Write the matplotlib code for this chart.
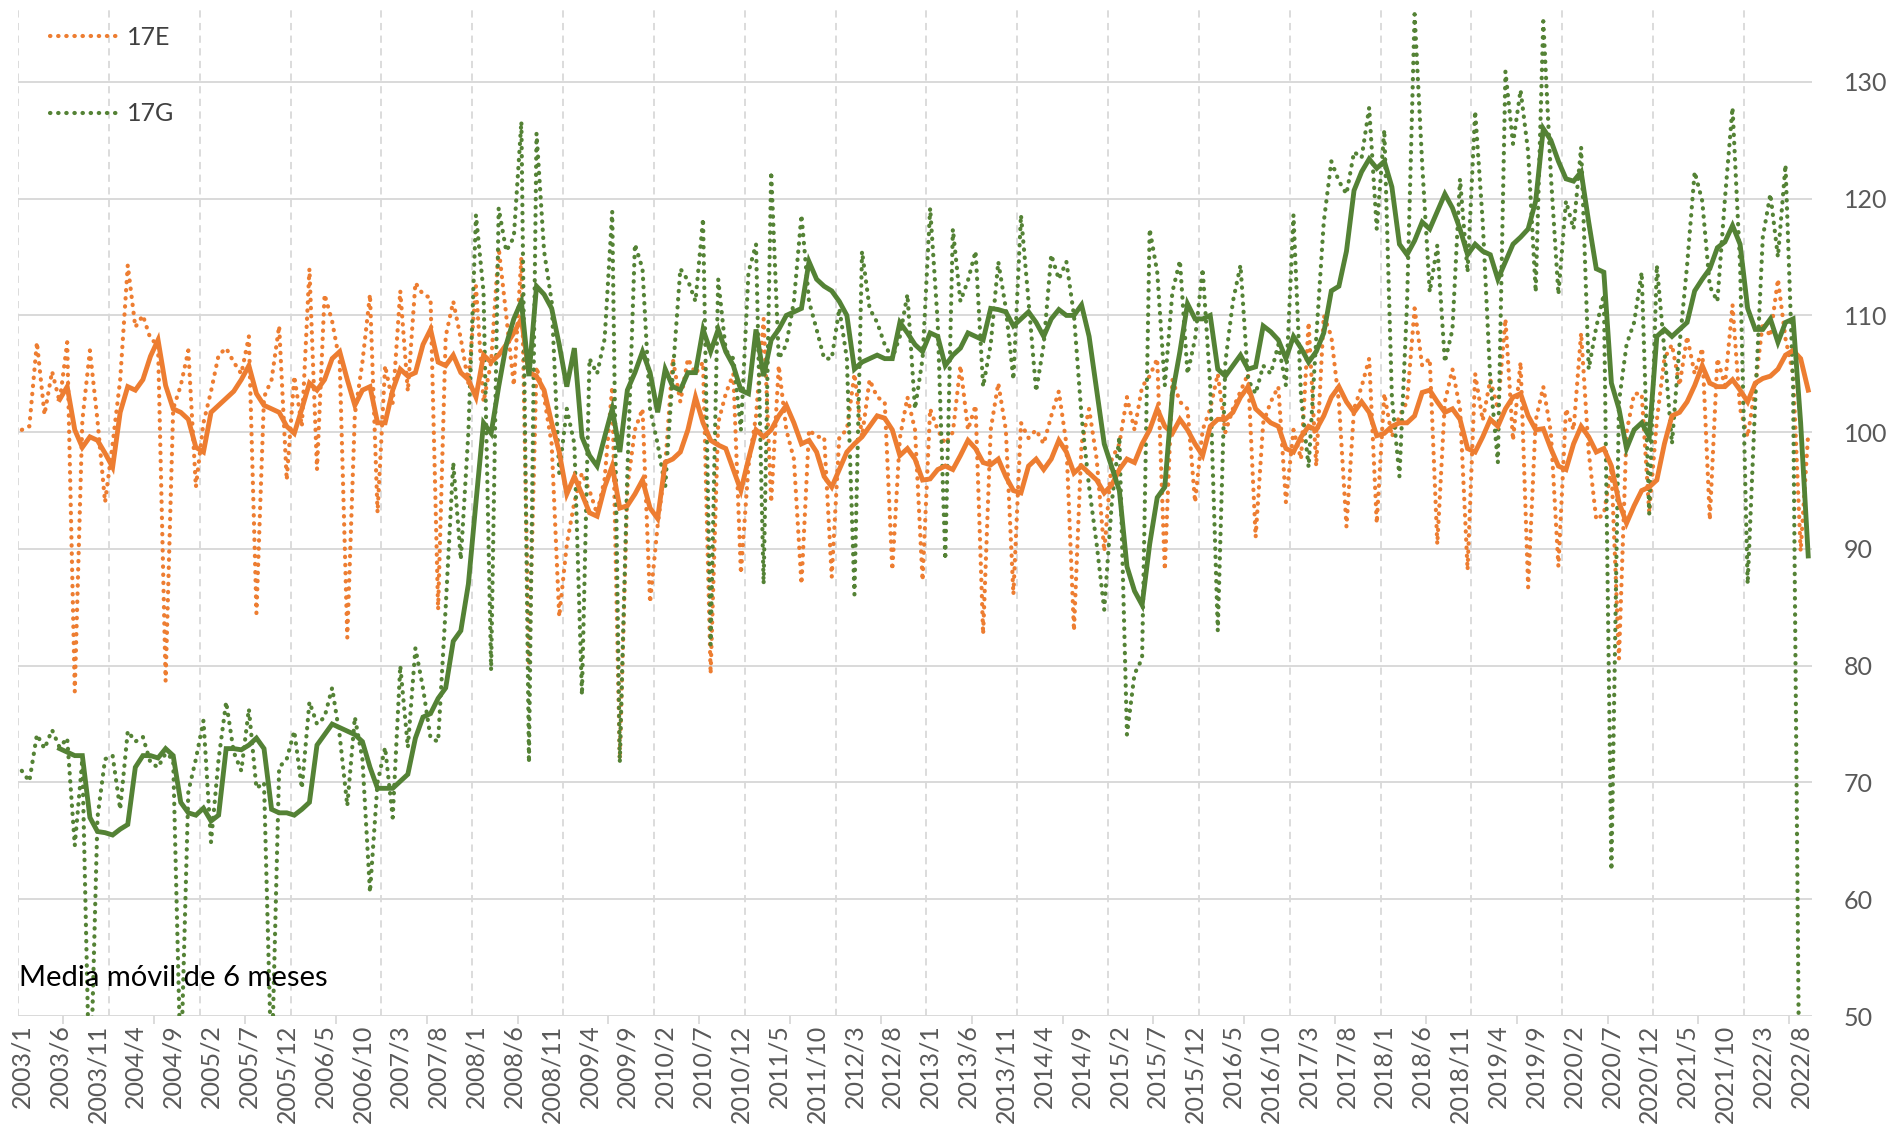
import matplotlib
matplotlib.use("Agg")
import matplotlib.pyplot as plt
from matplotlib.lines import Line2D
from matplotlib import font_manager
import numpy as np

# ---------------- data (monthly, 2003/1 .. 2022/9) ----------------
start_year, start_month = 2003, 1

e17 = [
    100.2, 100.5, 107.7, 101.5, 105.2, 102.6, 107.7, 77.8, 101, 107, 101, 94,          # 2003
    99, 104.5, 114.3, 109, 110, 108, 107.5, 78.7, 102, 104, 107, 95.3,                 # 2004
    100.8, 103.5, 106.6, 107.2, 106, 105, 108.2, 84.5, 103, 104.5, 109.1, 95.9,        # 2005
    104.8, 100.5, 114, 96.8, 111.8, 109.5, 106, 82.4, 101.5, 106, 111.8, 93.1,         # 2006
    105.7, 102.5, 112.1, 103.5, 112.8, 111.8, 111.5, 84.8, 108.2, 111.2, 108, 104.2,   # 2007
    112.5, 102.6, 106, 115.8, 110, 104, 115, 80, 105.6, 103, 99, 84.2,                 # 2008
    90.4, 94, 96.5, 95, 93, 96, 103.9, 72, 95.3, 100.2, 102, 85.4,                     # 2009
    92, 97.1, 106.3, 102.6, 106.3, 105, 106, 79.3, 100.8, 103.3, 105, 87.9,            # 2010
    97.1, 101.4, 109.7, 94, 105.7, 100.2, 97.7, 87, 100.2, 99.6, 99.6, 87.6,           # 2011
    99.6, 100.2, 105, 99.6, 104.5, 103, 102.6, 88.2, 99.5, 103, 100.2, 87.3,           # 2012
    102, 100.2, 99, 100, 105.7, 100.2, 102.3, 82.7, 100.2, 104.2, 100.2, 86.1,         # 2013
    100.8, 99.5, 100.2, 99, 101.4, 103.5, 99, 83, 99, 102, 97.7, 89.8,                 # 2014
    97.7, 99, 103, 100.2, 103.9, 104.8, 106.3, 88.2, 104.5, 102.6, 102, 94,            # 2015
    100.2, 102, 105, 100, 102, 103.5, 105, 91, 100.8, 102.6, 103.9, 94,                # 2016
    100.2, 97.7, 109.4, 97.1, 110, 108.2, 102.6, 91.9, 102, 103.9, 106.3, 92.2,        # 2017
    103.3, 99.6, 101.4, 102.6, 110.6, 105.7, 106.3, 90.4, 102.6, 105.4, 102, 88.2,     # 2018
    105, 101, 104.5, 102, 109.7, 99.3, 106, 86.7, 101, 103.9, 100, 88.5,               # 2019
    102, 100.2, 108.5, 98.3, 92.5, 93, 97, 80.6, 100, 103.3, 103.3, 93.1,              # 2020
    101, 106.3, 107.5, 104, 108.2, 105, 107.2, 92.5, 106.3, 104, 110.9, 102,           # 2021
    99.6, 103.9, 109.4, 108.2, 113.1, 108, 105, 89.8, 99.9,                            # 2022
]

g17 = [
    71.0, 70.1, 74.1, 72.9, 74.5, 73, 73.8, 64.6, 72, 42, 67, 72,                      # 2003
    72.3, 67.7, 74.4, 73.5, 73.9, 71.7, 71.3, 72.5, 72, 45, 69.2, 72,                  # 2004
    75.3, 64.9, 72, 76.9, 72.6, 71, 76.3, 69.5, 70, 45, 71.3, 72,                      # 2005
    74.4, 69.5, 76.9, 75, 75.6, 78.1, 74, 68, 75.6, 72, 60.6, 70,                      # 2006
    73, 67, 80, 73, 81.5, 78.1, 73.8, 73.5, 85, 97.4, 89.1, 100,                       # 2007
    118.6, 112, 79.6, 119.2, 115.5, 116.7, 126.6, 71.7, 125.6, 115.5, 111.2, 96.5,     # 2008
    102, 99, 77.5, 106.3, 105, 108, 118.9, 71.7, 96.5, 116.1, 114, 102,                # 2009
    99, 95.3, 105, 114, 113, 111.2, 118.3, 81.8, 113.1, 107, 106.3, 100.2,             # 2010
    113.7, 116.1, 87, 122.3, 106.3, 107.5, 111.2, 118.6, 111.2, 108.8, 106.3, 106.3,   # 2011
    110.6, 106.3, 86.1, 115.5, 110.6, 109.4, 107.5, 106.3, 108.2, 111.8, 102, 106.3,   # 2012
    119.2, 109.4, 89.1, 117.4, 111.2, 113, 115.5, 103.9, 107.5, 114.6, 110.6, 104.5,   # 2013
    118.6, 111.2, 103.5, 107.5, 115.2, 113.1, 114.6, 110, 101.4, 95.3, 90.4, 84.8,     # 2014
    94, 99.6, 74.1, 79.3, 80.6, 117.4, 113.7, 104, 112, 114.7, 105, 108,              # 2015
    114, 104, 83, 106, 111.2, 114.3, 104.5, 103.3, 105.7, 105, 107.5, 104,             # 2016
    118.6, 103, 97, 108, 118, 123.2, 121.5, 120.4, 124, 123.5, 127.8, 117.4,           # 2017
    125.9, 103, 96.2, 111, 135.8, 123, 112, 116, 106, 108.8, 121.7, 113.7,             # 2018
    127.5, 118, 104.5, 97.4, 130.9, 124.7, 129.3, 124, 112, 135.2, 122, 111.8,         # 2019
    119.8, 117.4, 124.4, 105.4, 109, 111.8, 62.5, 102.6, 107.5, 109.4, 113.7, 93,      # 2020
    114.3, 107, 99, 107.5, 114.3, 122.3, 119.8, 112.5, 111.2, 120, 127.8, 114.3,       # 2021
    87, 102.6, 116.7, 120.4, 115, 122.9, 104, 30, 40,                                  # 2022
]

# 6-month moving averages as drawn (start at 2003/6)
ma_start = 5
e17_ma = [
    102.8, 103.9, 100.2, 98.7, 99.6, 99.3, 98.2,                                       # 2003
    97.0, 101.7, 103.9, 103.6, 104.5, 106.5, 107.9, 104, 102, 101.7, 101.1, 98.7,      # 2004
    98.3, 101.7, 102.3, 102.9, 103.5, 104.5, 105.7, 103.3, 102.3, 102, 101.7, 100.5,   # 2005
    99.9, 102, 104.2, 103.6, 104.5, 106.3, 106.9, 104.5, 102.3, 103.6, 103.9, 100.8,   # 2006
    100.8, 103.6, 105.4, 104.8, 105.1, 107.5, 108.8, 106, 105.7, 106.6, 105.1, 104.5,  # 2007
    103, 106.6, 106, 106.6, 107.5, 108.5, 109.7, 105.1, 104.8, 103.6, 100.8, 98.3,     # 2008
    94.7, 96.2, 94.7, 93.1, 92.8, 95.3, 97.1, 93.5, 93.7, 94.7, 95.9, 93.5,            # 2009
    92.6, 97.4, 97.7, 98.3, 100.2, 103, 100.8, 99.3, 98.9, 98.6, 96.8, 95,             # 2010
    97.7, 100.2, 99.6, 100.2, 101.4, 102.3, 100.8, 99, 99.3, 98.3, 96.2, 95.3,         # 2011
    96.8, 98.3, 99, 99.6, 100.5, 101.4, 101.2, 100.2, 98, 98.6, 97.7, 95.9,            # 2012
    96, 96.8, 97.1, 96.8, 98, 99.3, 98.6, 97.4, 97.2, 97.7, 96.2, 95,                  # 2013
    94.8, 97.1, 97.7, 96.8, 97.7, 99.3, 98.3, 96.5, 97.1, 96.5, 95.9, 94.8,            # 2014
    95.5, 96.8, 97.7, 97.4, 99, 100.2, 102, 100.5, 99.9, 101.1, 100.2, 99,             # 2015
    98, 100.5, 101.1, 101.1, 101.7, 103, 103.9, 102, 101.4, 100.8, 100.5, 98.6,        # 2016
    98.3, 99.6, 100.5, 100.2, 101.4, 103, 103.9, 102.6, 101.7, 102.6, 101.7, 99.7,     # 2017
    99.9, 100.5, 100.8, 100.8, 101.4, 103.4, 103.6, 102.6, 101.7, 102, 101.1, 98.6,    # 2018
    98.3, 99.6, 101.1, 100.5, 102, 103, 103.3, 101.4, 100.2, 100.3, 98.6, 97.1,        # 2019
    96.8, 99, 100.5, 99.6, 98.3, 98.6, 97.1, 94, 92.2, 93.7, 95, 95.3,                 # 2020
    95.9, 99, 101.4, 101.7, 102.6, 104, 105.7, 104.2, 103.9, 103.9, 104.5, 103.6,      # 2021
    102.6, 104.2, 104.6, 104.8, 105.4, 106.6, 107, 106.3, 103.6,                       # 2022
]

g17_ma = [
    72.9, 72.6, 72.3, 72.3, 67.0, 65.8, 65.7,                                          # 2003
    65.5, 66.0, 66.4, 71.3, 72.3, 72.3, 72.1, 72.9, 72.3, 68.3, 67.4, 67.2,            # 2004
    67.8, 66.7, 67.2, 72.9, 72.9, 72.8, 73.2, 73.8, 72.9, 67.7, 67.4, 67.4,            # 2005
    67.2, 67.7, 68.3, 73.2, 74.1, 75.0, 74.7, 74.4, 74.1, 73.5, 71.3, 69.5,            # 2006
    69.5, 69.5, 70.1, 70.7, 73.8, 75.6, 75.9, 77.2, 78.1, 82.1, 83, 87,                # 2007
    94, 100.8, 99.9, 103.9, 107.5, 109.7, 111.2, 104.8, 112.5, 111.8, 110.6, 107.5,    # 2008
    103.9, 107.2, 99.6, 98, 97.1, 99.6, 102, 98.3, 103.6, 105.1, 106.9, 105.1,         # 2009
    101.7, 105.4, 103.9, 103.6, 105.1, 105.1, 108.8, 106.9, 108.8, 106.9, 105.7, 103.6,  # 2010
    103.3, 108.8, 104.8, 107.9, 108.8, 110, 110.3, 110.6, 114.6, 113.1, 112.5, 112.1,  # 2011
    111.2, 110, 105.4, 106, 106.3, 106.6, 106.3, 106.3, 109.4, 108.5, 107.5, 106.9,    # 2012
    108.5, 108.2, 105.7, 106.6, 107.2, 108.5, 108.2, 107.9, 110.6, 110.5, 110.3, 109.1,  # 2013
    109.7, 110.3, 109.4, 108.2, 109.7, 110.5, 110, 110, 110.9, 108.2, 103.6, 99,       # 2014
    97, 95, 88.5, 86.4, 85.2, 90.4, 94.4, 95.3, 103.3, 106.9, 111, 109.7,              # 2015
    109.7, 110, 105.4, 104.8, 105.7, 106.6, 105.4, 105.6, 109.1, 108.6, 107.9, 106.3,  # 2016
    108.2, 107.2, 106, 106.9, 108.5, 112.1, 112.5, 115.5, 120.7, 122.3, 123.4, 122.6,  # 2017
    123.2, 121, 116.1, 115.2, 116.4, 118, 117.4, 118.9, 120.4, 119.2, 117.4, 115.2,    # 2018
    116.1, 115.5, 115.2, 113.1, 114.6, 116.1, 116.7, 117.4, 119.8, 126, 125, 123.2,    # 2019
    121.7, 121.5, 122.3, 118, 114, 113.7, 104.2, 102, 98.6, 100.2, 100.8, 99.6,        # 2020
    108.2, 108.8, 108.2, 108.8, 109.4, 112.1, 113.1, 114, 115.8, 116.3, 117.7, 116.1,  # 2021
    110.6, 108.8, 108.8, 109.7, 107.7, 109.4, 109.7, 100.8, 89.4,                      # 2022
]

series_labels = ["17E", "17G"]
note_text = "Media móvil de 6 meses"
y_ticks = [50, 60, 70, 80, 90, 100, 110, 120, 130]

# ---------------- style ----------------
ORANGE = "#ED7D31"
GREEN = "#548235"
GRID = "#D9D9D9"
TXT = "#595959"

names = {f.name for f in font_manager.fontManager.ttflist}
main_font = "Lato" if "Lato" in names else "DejaVu Sans"
narrow_font = "Liberation Sans Narrow" if "Liberation Sans Narrow" in names else main_font
plt.rcParams["font.family"] = [main_font, "DejaVu Sans"]

n = len(e17)
x = np.arange(n)
months = [f"{start_year + (start_month - 1 + i) // 12}/{(start_month - 1 + i) % 12 + 1}" for i in range(n)]

fig = plt.figure(figsize=(18.98, 11.24), dpi=100)
ax = fig.add_axes([18 / 1898, 1 - 1016 / 1124, (1812 - 18) / 1898, (1016 - 6) / 1124])

# gridlines
for yv in y_ticks:
    ax.axhline(yv, color=GRID, lw=1.4, zorder=0)
for k in range(0, n, 12):
    ax.axvline(k - 0.5, color=GRID, lw=1.3, ls=(0, (4, 3)), zorder=0)

dot = dict(lw=3.0, ls=(0, (0.1, 1.85)), dash_capstyle="round", solid_capstyle="round")
ax.plot(x, e17, color=ORANGE, zorder=2, **dot)
ax.plot(x, g17, color=GREEN, zorder=2, **dot)
xm = x[ma_start:]
ax.plot(xm, e17_ma, color=ORANGE, lw=3.5, zorder=3, solid_joinstyle="miter")
ax.plot(xm, g17_ma, color=GREEN, lw=3.5, zorder=4, solid_joinstyle="miter")

ax.set_xlim(-0.5, n - 0.5)
ax.set_ylim(50, 136.5)

for s in ax.spines.values():
    s.set_visible(False)

ax.yaxis.tick_right()
ax.set_yticks(y_ticks)
ax.set_yticklabels([str(v) for v in y_ticks], fontsize=18, color=TXT, family=[main_font, "DejaVu Sans"])
ax.tick_params(axis="y", length=0, pad=23)

lab_idx = list(range(0, n, 5))
ax.set_xticks(lab_idx)
ax.set_xticklabels([months[i] for i in lab_idx], rotation=90, fontsize=18, color=TXT,
                   family=[narrow_font, "DejaVu Sans"])
ax.tick_params(axis="x", length=0, pad=6)
ax.set_xticks([k - 0.5 for k in range(6, n, 12)], minor=True)
ax.tick_params(axis="x", which="minor", length=6, width=1.3, color=GRID, direction="out")

handles = [Line2D([0], [0], color=ORANGE, **dot), Line2D([0], [0], color=GREEN, **dot)]
leg = ax.legend(handles, series_labels, loc="upper left", bbox_to_anchor=(0.008, 0.998),
                frameon=False, fontsize=18, handlelength=2.7, handletextpad=0.4,
                labelspacing=2.15, borderaxespad=0.3)
for t in leg.get_texts():
    t.set_color("#404040")

ax.text(0.0005, 0.038, note_text, transform=ax.transAxes, ha="left", va="center",
        fontsize=21, color="black")

fig.savefig("out.png", dpi=100)
